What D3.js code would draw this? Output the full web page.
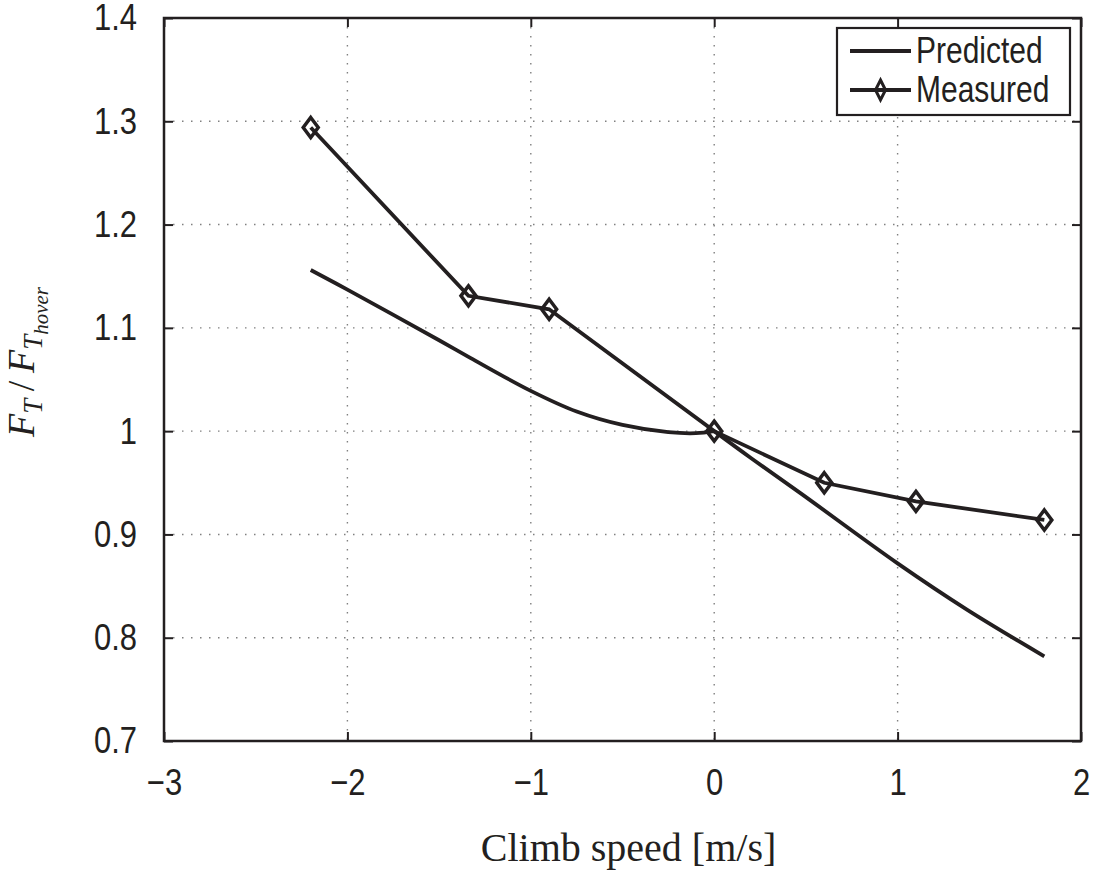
<!DOCTYPE html>
<html>
<head>
<meta charset="utf-8">
<script src="https://cdn.jsdelivr.net/npm/d3@7"></script>
<style>
  body { margin: 0; background: #fff; }
  text { fill: #231f20; }
</style>
</head>
<body>
<svg id="chart" width="1096" height="871"></svg>
<script>
// measured points
const measX = [-2.2, -1.34, -0.9, 0, 0.6, 1.1, 1.8];
const measY = [1.294, 1.131, 1.118, 1.0, 0.950, 0.932, 0.914];
// predicted curve (kink at x = 0)
const predX = [-2.2, -2.0, -1.5, -1.33, -1.0, -0.75, -0.5, -0.25, -0.1, 0, 0.2, 0.47, 1.0, 1.38, 1.8];
const predY = [1.156, 1.137, 1.088, 1.071, 1.039, 1.019, 1.006, 0.999, 0.998, 1.0, 0.974, 0.940, 0.872, 0.827, 0.782];

const xTicks = [-3, -2, -1, 0, 1, 2];
const yTicks = [0.7, 0.8, 0.9, 1, 1.1, 1.2, 1.3, 1.4];

const ink = "#231f20";
const pL = 164, pR = 1081, pT = 18, pB = 741;
const sy = 1.2; // glyphs in the source are taller than wide

const svg = d3.select("#chart");
const x = d3.scaleLinear().domain([-3, 2]).range([pL, pR]);
const y = d3.scaleLinear().domain([0.7, 1.4]).range([pB, pT]);

// grid
const grid = svg.append("g")
    .attr("stroke", "#808080")
    .attr("stroke-width", 1.4)
    .attr("stroke-dasharray", "1.5,7.5");
grid.selectAll("line.gx")
  .data(xTicks.slice(1, -1))
  .join("line")
    .attr("class", "gx")
    .attr("x1", d => x(d)).attr("x2", d => x(d))
    .attr("y1", pT).attr("y2", pB);
grid.selectAll("line.gy")
  .data(yTicks.slice(1, -1))
  .join("line")
    .attr("class", "gy")
    .attr("y1", d => y(d)).attr("y2", d => y(d))
    .attr("x1", pL).attr("x2", pR);

// axes (ticks inside, on all four sides)
const tk = 9;
const fmt = d => d < 0 ? "\u2212" + Math.abs(d) : String(d);
const axB = svg.append("g").attr("transform", `translate(0,${pB})`)
  .call(d3.axisBottom(x).tickValues(xTicks).tickSize(-tk).tickPadding(23).tickFormat(fmt));
const axT = svg.append("g").attr("transform", `translate(0,${pT})`)
  .call(d3.axisTop(x).tickValues(xTicks).tickSize(-tk).tickFormat(""));
const axL = svg.append("g").attr("transform", `translate(${pL},0)`)
  .call(d3.axisLeft(y).tickValues(yTicks).tickSize(-tk).tickPadding(27).tickFormat(d3.format("")));
const axR = svg.append("g").attr("transform", `translate(${pR},0)`)
  .call(d3.axisRight(y).tickValues(yTicks).tickSize(-tk).tickFormat(""));
[axB, axT, axL, axR].forEach(a => {
  a.select(".domain").remove();
  a.selectAll("line").attr("stroke", ink).attr("stroke-width", 2);
  a.selectAll("text")
    .attr("font-family", "Liberation Sans, Arial, sans-serif")
    .attr("font-size", 31)
    .attr("fill", ink)
    .attr("transform", `scale(1,${sy})`);
});

svg.append("rect")
    .attr("x", pL).attr("y", pT)
    .attr("width", pR - pL).attr("height", pB - pT)
    .attr("fill", "none").attr("stroke", ink).attr("stroke-width", 2.5);

// predicted: two smooth branches meeting at x = 0
const pred = predX.map((d, i) => [d, predY[i]]);
const predLine = d3.line().x(d => x(d[0])).y(d => y(d[1])).curve(d3.curveCatmullRom.alpha(0.5));
[pred.filter(d => d[0] <= 0), pred.filter(d => d[0] >= 0)].forEach(branch => {
  svg.append("path")
      .datum(branch)
      .attr("fill", "none")
      .attr("stroke", ink)
      .attr("stroke-width", 3.8)
      .attr("stroke-linejoin", "round")
      .attr("d", predLine);
});

// measured
const meas = measX.map((d, i) => [d, measY[i]]);
svg.append("path")
    .datum(meas)
    .attr("fill", "none")
    .attr("stroke", ink)
    .attr("stroke-width", 3.8)
    .attr("d", d3.line().x(d => x(d[0])).y(d => y(d[1])));

const diamondPath = (w, h) => `M0,${-h}L${w},0L0,${h}L${-w},0Z`;
svg.append("g")
  .selectAll("path")
  .data(meas)
  .join("path")
    .attr("transform", d => `translate(${x(d[0])},${y(d[1])})`)
    .attr("d", diamondPath(7.5, 10))
    .attr("fill", "none")
    .attr("stroke", ink)
    .attr("stroke-width", 3.5);

// legend
const lg = svg.append("g");
lg.append("rect")
    .attr("x", 837).attr("y", 28).attr("width", 233).attr("height", 87)
    .attr("fill", "#fff").attr("stroke", ink).attr("stroke-width", 2.2);
const items = ["Predicted", "Measured"];
items.forEach((name, i) => {
  const ly = 51 + i * 39;
  lg.append("line")
      .attr("x1", 850).attr("x2", 911).attr("y1", ly).attr("y2", ly)
      .attr("stroke", ink).attr("stroke-width", 3.8);
  if (i === 1) {
    lg.append("path")
        .attr("transform", `translate(880.5,${ly})`)
        .attr("d", diamondPath(5, 10))
        .attr("fill", "none").attr("stroke", ink).attr("stroke-width", 3);
  }
  lg.append("text")
      .attr("transform", `translate(916,${ly + 12}) scale(1,${sy})`)
      .attr("font-family", "Liberation Sans, Arial, sans-serif")
      .attr("font-size", 30)
      .text(name);
});

// axis titles
svg.append("text")
    .attr("x", (pL + pR) / 2 + 6).attr("y", 861)
    .attr("text-anchor", "middle")
    .attr("font-family", "Liberation Serif, DejaVu Serif, serif")
    .attr("font-size", 40)
    .text("Climb speed [m/s]");

const yl = svg.append("text")
    .attr("transform", "translate(34,362) rotate(-90)")
    .attr("text-anchor", "middle")
    .attr("font-family", "Liberation Serif, DejaVu Serif, serif")
    .attr("font-style", "italic")
    .attr("font-size", 38);
yl.append("tspan").text("F");
yl.append("tspan").attr("dy", 8).attr("font-size", 27).text("T");
yl.append("tspan").attr("dy", -8).attr("font-style", "normal").text("\u2009/\u2009");
yl.append("tspan").text("F");
yl.append("tspan").attr("dy", 8).attr("font-size", 27).text("T");
yl.append("tspan").attr("dy", 6).attr("font-size", 21).text("hover");
</script>
</body>
</html>
